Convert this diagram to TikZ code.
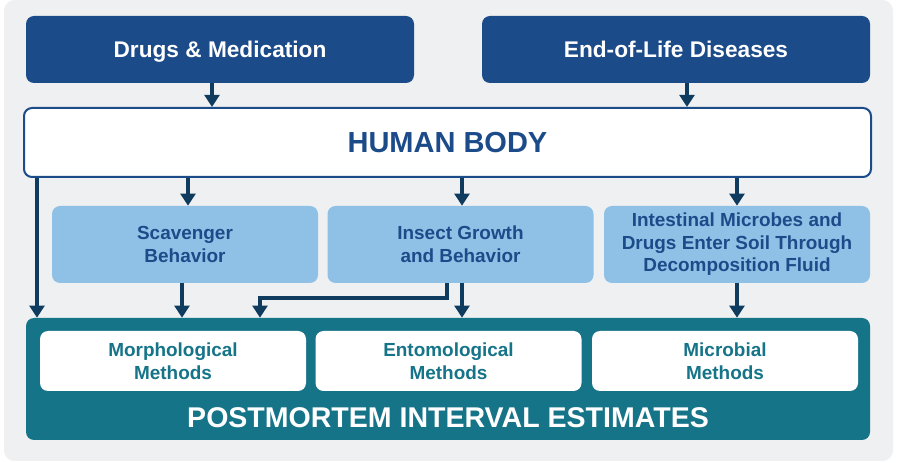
\documentclass[tikz,border=0pt]{standalone}
\usepackage{fontspec}
\setmainfont{Liberation Sans}
\usetikzlibrary{arrows.meta}
\definecolor{navy}{HTML}{1C4B89}
\definecolor{arrowblue}{HTML}{0F3B5F}
\definecolor{skyblue}{HTML}{8FC1E7}
\definecolor{pmiteal}{HTML}{167489}
\definecolor{panelgray}{HTML}{EEF0F1}

\begin{document}
\begin{tikzpicture}[x=0.75pt,y=-0.75pt,
	topbox/.style={rectangle,rounded corners=6pt,fill=navy,text=white,inner sep=0pt,text depth=0pt,
		minimum width=291pt,minimum height=50.25pt,font=\fontsize{17}{20}\selectfont\bfseries},
	bodybox/.style={rectangle,rounded corners=6pt,fill=white,draw=navy,line width=1.5pt,text=navy,
		inner sep=0pt,minimum width=635.25pt,minimum height=51.75pt,font=\fontsize{21.75}{26}\selectfont\bfseries},
	midbox/.style={rectangle,rounded corners=6pt,fill=skyblue,text=navy,inner sep=0pt,align=center,
		minimum width=199.5pt,minimum height=57.75pt,font=\fontsize{14.2}{16.9}\selectfont\bfseries},
	methodbox/.style={rectangle,rounded corners=6pt,fill=white,text=pmiteal,inner sep=0pt,align=center,
		minimum width=199.5pt,minimum height=45pt,font=\fontsize{14.2}{17.25}\selectfont\bfseries},
	arr/.style={draw=arrowblue,line width=3pt,-{Triangle[width=11pt,length=9pt]}}]
	\useasboundingbox (0,0) rectangle (901,463);
	%PANEL
	\fill[panelgray,rounded corners=8pt] (4,0) rectangle (893,461);

	%SOURCES
	\node[topbox] (drugs) at (220,49.5) {Drugs \& Medication};
	\node[topbox] (eol) at (676,49.5) {End-of-Life Diseases};
	%
	\node[bodybox] (body) at (447.5,142.5) {HUMAN BODY};

	%PROCESSES
	\node[midbox] (scav) at (185,244.5) {Scavenger\\Behavior};
	\node[midbox] (insect) at (460.5,244.5) {Insect Growth\\and Behavior};
	\node[midbox] (intest) at (737,244.5) {Intestinal Microbes and\\Drugs Enter Soil Through\\Decomposition Fluid};

	%ESTIMATES
	\node[rectangle,rounded corners=6pt,fill=pmiteal,minimum width=633pt,minimum height=91.5pt] (pmi) at (448,379) {};
	\node[methodbox] (morph) at (173,361) {Morphological\\Methods};
	\node[methodbox] (ento) at (448.5,361) {Entomological\\Methods};
	\node[methodbox] (micro) at (725,361) {Microbial\\Methods};
	\node[anchor=base,text=white,font=\fontsize{21.4}{26}\selectfont\bfseries] (pmitext) at (448,428) {POSTMORTEM INTERVAL ESTIMATES};

	%ARROWS
	\draw[arr] (drugs.south -| 212,0) -- (body.north -| 212,0);
	\draw[arr] (eol.south -| 687,0) -- (body.north -| 687,0);
	\draw[arr] (body.south -| 188,0) -- (scav.north -| 188,0);
	\draw[arr] (body.south -| 462,0) -- (insect.north -| 462,0);
	\draw[arr] (body.south -| intest.north) -- (intest.north);
	\draw[arr] (body.south -| 37,0) -- (pmi.north -| 37,0);
	%
	\draw[arr] (scav.south -| 182,0) -- (pmi.north -| 182,0);
	\draw[arr] (insect.south -| 462,0) -- (pmi.north -| 462,0);
	\draw[arr] (insect.south -| 447,0) -- (447,298) -| (pmi.north -| 260,0);
	\draw[arr] (intest.south) -- (pmi.north -| intest.south);
\end{tikzpicture}
\end{document}
